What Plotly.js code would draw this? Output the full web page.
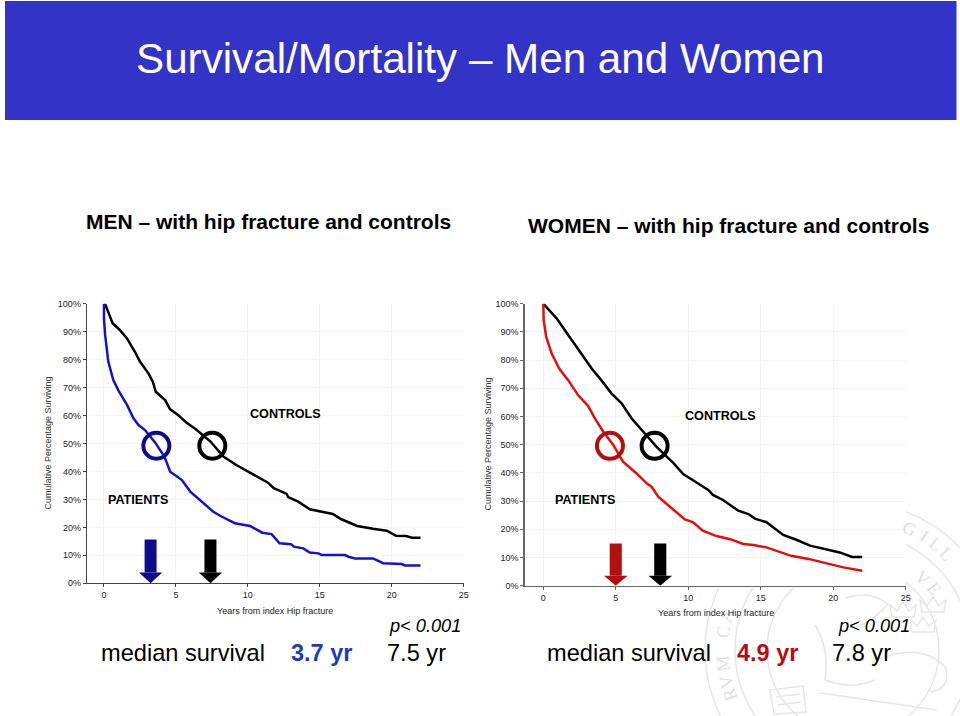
<!DOCTYPE html>
<html><head><meta charset="utf-8">
<script src="https://cdn.plot.ly/plotly-3.0.1.min.js"></script>
<style>html,body{margin:0;padding:0;background:#fff}</style></head>
<body><div id="chart" style="width:960px;height:716px"></div>
<script>
const menYears = [0,0.1,0.3,0.6,1.1,1.6,2.15,2.5,3.1,3.4,3.6,4.25,4.6,5.15,5.75,6.45,7.4,8.3,9.2,10,10.6,11.4,11.8,12.7,12.8,13.5,14.3,15.25,15.9,16.5,17.6,18.7,19.65,20.3,21,21.4,22];
const menControls = [100,99.6,97,93,90.6,87.6,82.8,79.3,75,72,68.5,65.5,62.2,60.2,57.4,54.8,50.7,45.3,42.3,39.9,38.1,36,34,32,30.8,29.2,26.5,25.4,24.8,22.9,20.5,19.5,18.8,17,16.9,16.3,16.3];
const menPatientYears = [0,0,0.07,0.3,0.65,1,1.6,2.05,2.4,2.85,3.55,4.2,4.6,5.4,6,6.7,7.6,8.2,9.1,10.15,11,11.65,12.2,13,13.2,13.85,14.3,14.9,15.15,16.75,17,17.45,18.7,19.4,20.7,20.9,22];
const menPatients = [100,94.8,89.4,79.3,72.7,69,63.8,59,56.6,54.8,50.4,45.3,39.9,37,32.8,29.8,25.6,23.8,21.5,20.5,18.1,17.6,14.3,14,13.1,12.5,11,10.7,10.1,10.1,9.5,8.9,8.9,7.2,6.9,6.4,6.4];
const womenYears = [0,0.92,1.72,2.5,3.34,4,4.7,5.4,6.1,6.9,7.8,9,9.65,10.6,11.4,11.7,12.4,13.45,14.15,14.6,15.4,16.55,17.5,18.4,19.3,20.45,21.3,22];
const womenControls = [100,94.8,88.9,83,77,72.9,68.2,64.7,59.3,54.6,49.3,43.4,39.6,36.5,33.9,32.2,30.4,26.6,25.4,23.8,22.5,18,16.2,14.2,13.2,11.8,10.2,10.2];
const womenPatientYears = [0,0.03,0.2,0.57,1.1,1.72,2.4,3.1,3.56,4.14,4.83,5.5,6.44,7.13,7.47,7.93,8.74,9.77,10.34,11,11.95,12.9,13.8,14.5,15.4,16.3,17.1,18.3,19.5,20.7,22];
const womenPatients = [100,94.2,88.3,82.4,77,72.9,67.6,63.7,59.3,54.6,49.9,44,39.8,36.3,35.1,31.6,28,23.5,22.5,19.5,17.6,16.5,14.8,14.4,13.6,12,10.6,9.5,7.9,6.5,5.3];
const menCircleX = [3.64,7.53], menCircleY = [49.2,49.2];
const womenCircleX = [4.6,7.68], womenCircleY = [49.6,49.6];
const xTicks = [0,5,10,15,20,25];
const yTicks = [0,10,20,30,40,50,60,70,80,90,100];
const yTickLabels = yTicks.map(v=>v+'%');

const W=960,H=716;
const FONT='"Liberation Sans", Arial, sans-serif';
const BLUE='#1414c4', RED='#e01010', NAVY='#0c0c8c', DKRED='#b30f10', BANNER='#3333c8', SEAL='#e6e6e6';
const SX=853,SY=650;
const px=x=>x/W, py=y=>1-y/H;

function line(x,y,c,xa,ya,w){return {x,y,xaxis:xa,yaxis:ya,type:'scatter',mode:'lines',line:{color:c,width:w||2.5,shape:'linear'},hoverinfo:'skip',showlegend:false};}
function ring(x,y,c,xa,ya){return {x,y,xaxis:xa,yaxis:ya,type:'scatter',mode:'markers',marker:{symbol:'circle-open',size:26,color:c,line:{color:c,width:4}},hoverinfo:'skip',showlegend:false};}
const traces=[
 line(menYears,menControls,'#000','x','y'),
 line(menPatientYears,menPatients,BLUE,'x','y'),
 line(womenYears,womenControls,'#000','x2','y2'),
 line(womenPatientYears,womenPatients,RED,'x2','y2'),
 ring([menCircleX[0]],[menCircleY[0]],NAVY,'x','y'),
 ring([menCircleX[1]],[menCircleY[1]],'#000','x','y'),
 ring([womenCircleX[0]],[womenCircleY[0]],DKRED,'x2','y2'),
 ring([womenCircleX[1]],[womenCircleY[1]],'#000','x2','y2')
];
function xax(d,r,anchor,lc,lw){return {domain:d,range:r,anchor,tickmode:'array',tickvals:xTicks,ticktext:xTicks.map(String),ticks:'outside',ticklen:3,tickcolor:lc,showline:true,linecolor:lc,linewidth:lw,showgrid:true,gridcolor:'#f4f4f4',gridwidth:1,zeroline:false,tickfont:{family:FONT,size:9,color:'#222'}};}
function yax(d,anchor,lc,lw){return {domain:d,range:[0,100],anchor,tickmode:'array',tickvals:yTicks,ticktext:yTickLabels,ticks:'outside',ticklen:3,tickcolor:lc,showline:true,linecolor:lc,linewidth:lw,showgrid:true,gridcolor:'#f4f4f4',gridwidth:1,zeroline:false,tickfont:{family:FONT,size:9,color:'#222'}};}
function arrow(xc,top,neck,c,xr,yr){const h=0.417,a=0.81;return [
 {type:'rect',xref:xr,yref:yr,x0:xc-h,x1:xc+h,y0:neck,y1:top,fillcolor:c,line:{width:0},layer:'above'},
 {type:'path',xref:xr,yref:yr,path:`M${xc-a},${neck} L${xc+a},${neck} L${xc},0 Z`,fillcolor:c,line:{width:0},layer:'above'}];}
function sealRing(r){return {type:'circle',xref:'paper',yref:'paper',x0:px(SX-r),x1:px(SX+r),y0:py(SY+r),y1:py(SY-r),line:{color:SEAL,width:1.5},fillcolor:'rgba(0,0,0,0)',layer:'below'};}
// path written in screen pixels, converted to paper fractions
function sealPath(cmds,fill){const d=cmds.map(c=>c[0]+c.slice(1).map((v,i)=>i%2===0?px(v):py(v)).join(',')).join(' ');
 return {type:'path',xref:'paper',yref:'paper',path:d,line:{color:SEAL,width:1.5},fillcolor:'rgba(0,0,0,0)',layer:'below'};}
function crown(x,y){return sealPath([['M',x-11,y+7],['L',x-13,y-5],['L',x-6,y+1],['L',x,y-8],['L',x+6,y+1],['L',x+13,y-5],['L',x+11,y+7],['Z']]);}
const shapes=[
 {type:'rect',xref:'paper',yref:'paper',x0:px(5),x1:px(956.5),y0:py(120),y1:py(1),fillcolor:BANNER,line:{width:0},layer:'below'},
 sealRing(148),sealRing(118),sealRing(86),
 crown(903,610),crown(933,605),crown(923,625),
 sealPath([['M',872,662],['Q',920,640,946,668],['Q',950,690,930,692]]),
 sealPath([['M',820,693],['L',937,710]]),
 sealPath([['M',845,598],['Q',870,590,888,604],['Q',870,625,850,628]]),
 sealPath([['M',770,690],['L',803,686],['L',806,712],['L',774,714],['Z']]),
 sealPath([['M',776,697],['L',800,694]]),sealPath([['M',777,705],['L',801,702]]),
 sealPath([['M',815,625],['Q',830,650,825,680],['Q',850,690,875,680]]),
 {type:'rect',xref:'paper',yref:'paper',x0:px(500),x1:px(906),y0:py(588),y1:py(290),fillcolor:'#fff',line:{width:0},layer:'below'},
 ...arrow(3.24,15.7,3.9,NAVY,'x','y'),
 ...arrow(7.4,15.7,3.9,'#000','x','y'),
 ...arrow(5,15,3.5,DKRED,'x2','y2'),
 ...arrow(8.07,15,3.5,'#000','x2','y2')
];
function T(text,x,y,size,opt){opt=opt||{};return {xref:'paper',yref:'paper',x:px(x),y:py(y),text,showarrow:false,xanchor:opt.anchor||'left',yanchor:'middle',textangle:opt.angle||0,font:{family:FONT,size,color:opt.color||'#000'}};}
function sealLetter(ch,theta,r){const t=theta*Math.PI/180;return {xref:'paper',yref:'paper',x:px(SX+r*Math.sin(t)),y:py(SY-r*Math.cos(t)),text:ch,showarrow:false,xanchor:'center',yanchor:'middle',textangle:theta,font:{family:'"Liberation Serif", serif',size:18,color:'#e0e0e0'}};}
const annotations=[
 sealLetter('G',25,134),sealLetter('I',32,134),sealLetter('L',38,134),sealLetter('L',44,134),
 sealLetter('V',44,100),sealLetter('E',53,102),
 sealLetter('R',-110,131),sealLetter('V',-104,131),sealLetter('M',-96,131),sealLetter('C',-82,131),sealLetter('A',-75,131),
 T('Survival/Mortality – Men and Women',134,58,42.2,{color:'#fff'}),
 T('<b>MEN – with hip fracture and controls</b>',84,222,21),
 T('<b>WOMEN – with hip fracture and controls</b>',526,225,21),
 T('Cumulative Percentage Surviving',48,443.5,9,{angle:-90,anchor:'center',color:'#333'}),
 T('Cumulative Percentage Surviving',487,444.5,9,{angle:-90,anchor:'center',color:'#333'}),
 T('<b>CONTROLS</b>',248,414,12.6),
 T('<b>PATIENTS</b>',106,500,12.6),
 T('<b>CONTROLS</b>',683,416,12.6),
 T('<b>PATIENTS</b>',553,500,12.6),
 T('Years from index Hip fracture',275,611,9,{anchor:'center',color:'#222'}),
 T('Years from index Hip fracture',715.5,613,9,{anchor:'center',color:'#222'}),
 T('<i>p&lt; 0.001</i>',387,626,18.2),
 T('<i>p&lt; 0.001</i>',836,626,18.2),
 T('median survival',99,653,23.6),
 T('<b>3.7 yr</b>',289,653,23.5,{color:'#1e3cb4'}),
 T('7.5 yr',385,653,23.6),
 T('median survival',545,653,23.6),
 T('<b>4.9 yr</b>',735,653,23.5,{color:DKRED}),
 T('7.8 yr',830,653,23.6)
];
const layout={width:W,height:H,margin:{l:0,r:0,t:0,b:0},paper_bgcolor:'#fff',plot_bgcolor:'rgba(0,0,0,0)',showlegend:false,
 xaxis:xax([px(86.7),px(463.7)],[-1.2,25],'y','#444',1),
 yaxis:yax([py(583.3),py(303.7)],'x','#444',1),
 xaxis2:xax([px(525),px(905.7)],[-1.26,25],'y2','#666',1.6),
 yaxis2:yax([py(585.7),py(303.7)],'x2','#666',1.6),
 shapes,annotations};
Plotly.newPlot('chart',traces,layout,{displayModeBar:false,staticPlot:true});
</script></body></html>
